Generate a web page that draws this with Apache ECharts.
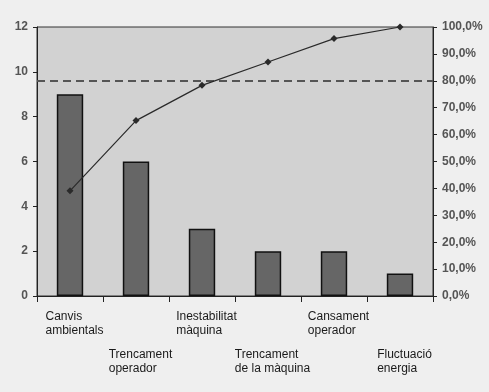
<!DOCTYPE html>
<html><head><meta charset="utf-8">
<script src="https://cdn.jsdelivr.net/npm/echarts@6/dist/echarts.min.js"></script>
<style>html,body{margin:0;padding:0;background:#efefef}#c{width:489px;height:392px}</style>
</head><body><div id="c"></div>
<script>
const categories = ['Canvis\nambientals', 'Trencament\noperador', 'Inestabilitat\nmàquina', 'Trencament\nde la màquina', 'Cansament\noperador', 'Fluctuació\nenergia'];
const counts = [9, 6, 3, 2, 2, 1];
const cumulativePct = [39.1, 65.2, 78.3, 87.0, 95.7, 100.0];
const thresholdPct = 80;

const chart = echarts.init(document.getElementById('c'), null, {renderer: 'canvas'});
const font = '"Liberation Sans", Arial, sans-serif';
chart.setOption({
  backgroundColor: '#efefef',
  animation: false,
  grid: {left: 37, right: 56, top: 27, bottom: 96, show: true, backgroundColor: '#d2d2d2', borderColor: '#333', borderWidth: 1},
  xAxis: {
    type: 'category', data: categories,
    axisLine: {lineStyle: {color: '#222', width: 1}},
    axisTick: {show: true, length: 6, lineStyle: {color: '#222'}},
    axisLabel: {
      interval: 0, margin: 14, padding: [0, 0, 0, 9],
      formatter: function (v, i) {
        const lines = v.split('\n').map(s => '{t|' + s + '}').join('\n');
        return i % 2 ? '{gap| }\n' + lines : lines;
      },
      rich: {
        t: {fontFamily: font, fontSize: 12, color: '#1a1a1a', lineHeight: 14, align: 'left'},
        gap: {fontSize: 12, lineHeight: 38, align: 'left'}
      }
    }
  },
  yAxis: [{
    type: 'value', min: 0, max: 12, interval: 2,
    axisLine: {show: true, lineStyle: {color: '#222'}},
    axisTick: {show: true, length: 4, lineStyle: {color: '#222'}},
    splitLine: {show: false},
    axisLabel: {fontFamily: font, fontSize: 12, fontWeight: 'bold', color: '#555', margin: 9}
  }, {
    type: 'value', min: 0, max: 100, interval: 10, position: 'right',
    axisLine: {show: true, lineStyle: {color: '#222'}},
    axisTick: {show: true, length: 4, lineStyle: {color: '#222'}},
    splitLine: {show: false},
    axisLabel: {fontFamily: font, fontSize: 12, fontWeight: 'bold', color: '#555', margin: 9,
      formatter: v => v.toFixed(1).replace('.', ',') + '%'}
  }],
  series: [{
    type: 'bar', data: counts, barWidth: '40%',
    itemStyle: {color: '#666666', borderColor: '#111', borderWidth: 1.5}
  }, {
    type: 'line', yAxisIndex: 1, data: cumulativePct,
    symbol: 'diamond', symbolSize: 7, showSymbol: true,
    lineStyle: {color: '#2a2a2a', width: 1.2},
    itemStyle: {color: '#2a2a2a'},
    z: 5,
    markLine: {
      silent: true, symbol: 'none', label: {show: false},
      lineStyle: {color: '#555', type: [8, 5], width: 2},
      data: [{yAxis: thresholdPct}]
    }
  }]
});
</script></body></html>
